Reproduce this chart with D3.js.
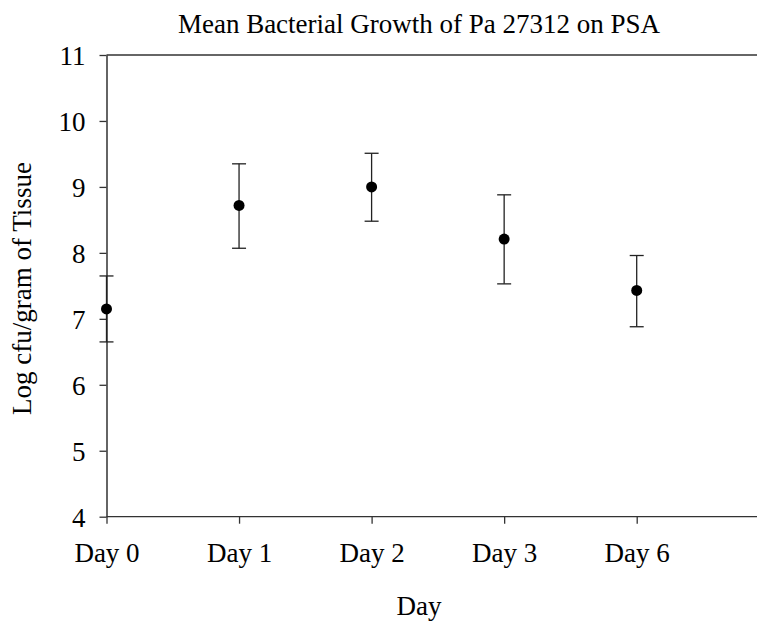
<!DOCTYPE html>
<html><head><meta charset="utf-8">
<script src="https://cdn.jsdelivr.net/npm/d3@7"></script>
<style>body{margin:0;background:#fff}svg{display:block}text{font-family:"Liberation Serif","Times New Roman",serif;fill:#000}</style>
</head><body>
<svg id="c" width="757" height="622"></svg>
<script>
const categories = ["Day 0","Day 1","Day 2","Day 3","Day 6"];
const means = [7.15, 8.72, 9.00, 8.21, 7.43];
const upper = [7.65, 9.35, 9.51, 8.88, 7.96];
const lower = [6.65, 8.07, 8.48, 7.53, 6.88];
const yTicks = [4,5,6,7,8,9,10,11];

const svg = d3.select("#c");
const x = d3.scaleLinear().domain([0, 4.9]).range([106.5, 756]);
const y = d3.scaleLinear().domain([4, 11]).range([516.7, 55]);
const FS = 27;

svg.append("line").attr("x1", x(0)).attr("x2", 757).attr("y1", y(11)).attr("y2", y(11))
  .attr("stroke", "#333").attr("stroke-width", 1.3);

const yAxis = svg.append("g").attr("transform", `translate(${x(0)},0)`)
  .call(d3.axisLeft(y).tickValues(yTicks).tickFormat(d3.format("d")).tickSize(7).tickPadding(14).tickSizeOuter(0));
yAxis.attr("font-size", FS).attr("font-family", "Liberation Serif");
yAxis.select(".domain").attr("stroke", "#111").attr("stroke-width", 1.3);
yAxis.selectAll(".tick line").attr("stroke", "#333").attr("stroke-width", 1.3);
yAxis.selectAll("text").style("font-size", FS + "px").attr("dy", "0.36em");

const xAxis = svg.append("g").attr("transform", `translate(0,${y(4)})`)
  .call(d3.axisBottom(x).tickValues(d3.range(categories.length)).tickFormat(i => categories[i]).tickSize(7).tickPadding(19.5).tickSizeOuter(0));
xAxis.attr("font-size", FS).attr("font-family", "Liberation Serif");
xAxis.select(".domain").attr("d", `M${x(0)},0H757`).attr("stroke", "#333").attr("stroke-width", 1.3);
xAxis.selectAll(".tick line").attr("stroke", "#333").attr("stroke-width", 1.3);
xAxis.selectAll("text").style("font-size", FS + "px");

const data = categories.map((c, i) => ({i, m: means[i], hi: upper[i], lo: lower[i]}));
const g = svg.append("g");
g.selectAll(".eb").data(data).join("line")
  .attr("x1", d => x(d.i)).attr("x2", d => x(d.i)).attr("y1", d => y(d.hi)).attr("y2", d => y(d.lo))
  .attr("stroke", "#222").attr("stroke-width", 1.3);
["hi","lo"].forEach(k => {
  g.selectAll(".cap" + k).data(data).join("line")
    .attr("x1", d => x(d.i) - 7).attr("x2", d => x(d.i) + 7).attr("y1", d => y(d[k])).attr("y2", d => y(d[k]))
    .attr("stroke", "#222").attr("stroke-width", 1.3);
});
g.selectAll("circle").data(data).join("circle")
  .attr("cx", d => x(d.i)).attr("cy", d => y(d.m)).attr("r", 5.5).attr("fill", "#000");

svg.append("text").attr("x", 419).attr("y", 33).attr("text-anchor", "middle").style("font-size", FS + "px")
  .text("Mean Bacterial Growth of Pa 27312 on PSA");
svg.append("text").attr("x", 419).attr("y", 615).attr("text-anchor", "middle").style("font-size", FS + "px").text("Day");
svg.append("text").attr("transform", "translate(31,288.5) rotate(-90)").attr("text-anchor", "middle").style("font-size", FS + "px")
  .text("Log cfu/gram of Tissue");
</script>
</body></html>
